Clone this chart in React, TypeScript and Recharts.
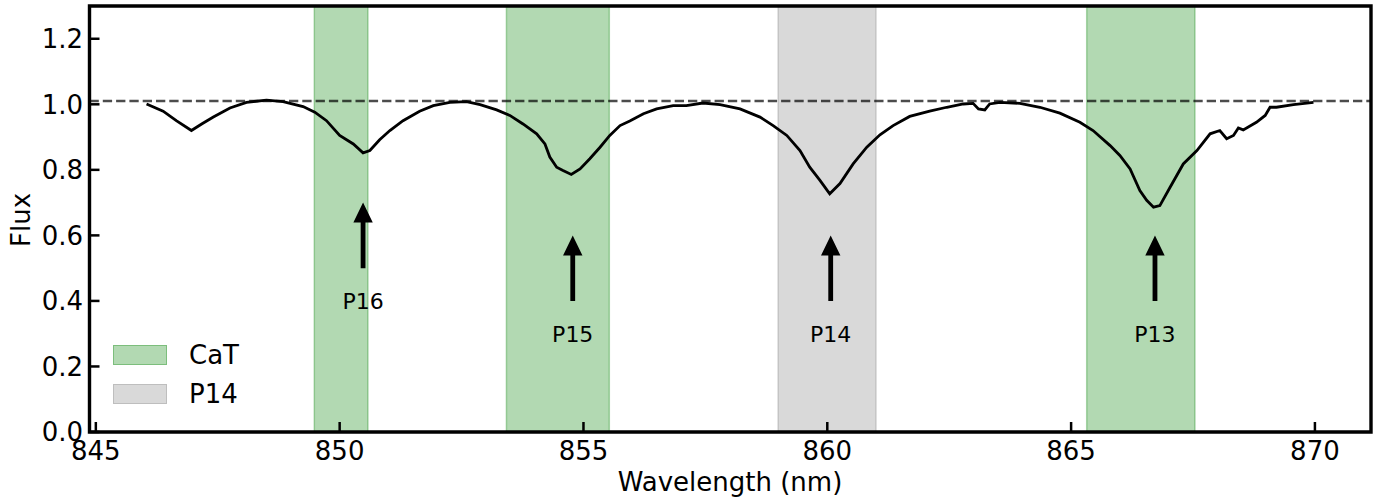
import {
  LineChart,
  Line,
  XAxis,
  YAxis,
  ReferenceArea,
  ReferenceLine,
  ReferenceDot,
  Legend,
} from "recharts";

const FONT = "DejaVu Sans";

// spectrum
const wavelength = [
  846.04, 846.38, 846.65, 846.96, 847.17, 847.41, 847.75, 848.09, 848.5, 848.84,
  849.25, 849.49, 849.73, 850.0, 850.28, 850.48, 850.62, 850.82, 851.03, 851.3,
  851.64, 851.92, 852.26, 852.6, 852.88, 853.22, 853.49, 853.76, 854.04, 854.21,
  854.31, 854.45, 854.58, 854.75, 854.93, 855.13, 855.34, 855.54, 855.75, 855.95,
  856.23, 856.5, 856.84, 857.11, 857.45, 857.8, 858.21, 858.62, 858.89, 859.17,
  859.44, 859.64, 859.85, 860.05, 860.26, 860.53, 860.81, 861.08, 861.35, 861.69,
  862.1, 862.45, 862.79, 862.99, 863.1, 863.23, 863.33, 863.54, 863.95, 864.36,
  864.77, 865.18, 865.45, 865.8, 866.0, 866.21, 866.41, 866.55, 866.69, 866.82,
  867.03, 867.3, 867.58, 867.85, 868.05, 868.19, 868.33, 868.43, 868.53, 868.8,
  868.98, 869.08, 869.21, 869.56, 869.97,
];
const flux = [
  1.001, 0.979, 0.95, 0.92, 0.94, 0.961, 0.989, 1.006, 1.013, 1.008,
  0.993, 0.976, 0.95, 0.905, 0.879, 0.852, 0.859, 0.892, 0.92, 0.95,
  0.979, 0.996, 1.006, 1.008, 0.999, 0.983, 0.966, 0.94, 0.91, 0.879,
  0.839, 0.808, 0.798, 0.786, 0.803, 0.834, 0.869, 0.905, 0.935, 0.949,
  0.971, 0.986, 0.996, 0.996, 1.004, 0.999, 0.986, 0.961, 0.935, 0.905,
  0.859, 0.808, 0.768, 0.727, 0.758, 0.818, 0.869, 0.907, 0.935, 0.963,
  0.979, 0.991, 1.001, 1.003, 0.986, 0.983, 1.001, 1.006, 1.003, 0.991,
  0.973, 0.945, 0.92, 0.874, 0.844, 0.803, 0.737, 0.707, 0.686, 0.691,
  0.747, 0.818, 0.859, 0.91, 0.92, 0.895, 0.905, 0.928, 0.922, 0.945,
  0.966, 0.991, 0.991, 0.999, 1.006,
];

const continuum = 1.01;

const catBands = [
  [849.48, 850.58],
  [853.42, 855.53],
  [865.32, 867.54],
];
const p14Band = [858.99, 861.0];

const lineNames = ["P16", "P15", "P14", "P13"];
const lineCenters = [850.48, 854.78, 860.07, 866.72];
const arrowTail = [0.5, 0.4, 0.4, 0.4];
const arrowTip = [0.7, 0.6, 0.6, 0.6];
const labelY = [0.4, 0.3, 0.3, 0.3];

const xTicks = [845, 850, 855, 860, 865, 870];
const yTicks = [0, 0.2, 0.4, 0.6, 0.8, 1.0, 1.2];
const xDomain = [844.87, 871.15];
const yDomain = [0, 1.3];

const legendItems = [
  { label: "CaT", color: "#008000" },
  { label: "P14", color: "#808080" },
];

const data = wavelength.map((w, i) => ({ wl: w, flux: flux[i] }));

const AXIS_Y = 432;
const AXIS_X = 89.5;

const XTick = (p: any) => (
  <g>
    <line x1={p.x} x2={p.x} y1={AXIS_Y} y2={AXIS_Y - 10} stroke="#000" strokeWidth={2.5} />
    <text x={p.x} y={460} textAnchor="middle" fontSize={26} fontFamily={FONT} fill="#000">
      {p.payload.value}
    </text>
  </g>
);

const YTick = (p: any) => (
  <g>
    <line x1={AXIS_X} x2={AXIS_X + 10} y1={p.y} y2={p.y} stroke="#000" strokeWidth={2.5} />
    <text
      x={83}
      y={p.y}
      dy="0.36em"
      textAnchor="end"
      fontSize={26}
      fontFamily={FONT}
      fill="#000"
    >
      {Number(p.payload.value).toFixed(1)}
    </text>
  </g>
);

const Arrow = (p: any) => {
  const x = p.x1;
  const tail = Math.max(p.y1, p.y2);
  const tip = Math.min(p.y1, p.y2);
  const base = tip + 20;
  const hw = 9.7;
  const sw = 2.4;
  const pts = [
    [x - sw, tail],
    [x - sw, base],
    [x - hw, base],
    [x, tip],
    [x + hw, base],
    [x + sw, base],
    [x + sw, tail],
  ]
    .map((q) => q.join(","))
    .join(" ");
  return <polygon points={pts} fill="#000" />;
};

const renderLegend = () => (
  <div style={{ position: "relative", width: 200, height: 60 }}>
    {legendItems.map((it, i) => (
      <div
        key={it.label}
        style={{
          position: "absolute",
          left: 0,
          top: i * 38.5,
          height: 20,
          display: "flex",
          alignItems: "center",
        }}
      >
        <div style={{ width: 54, height: 20, position: "relative" }}>
          <div
            style={{
              position: "absolute",
              inset: 0,
              background: it.color,
              opacity: 0.3,
            }}
          />
          <div
            style={{
              position: "absolute",
              inset: 0,
              border: `1.5px solid ${it.color}`,
              opacity: 0.3,
            }}
          />
        </div>
        <span
          style={{
            marginLeft: 22,
            fontSize: 26,
            fontFamily: FONT,
            lineHeight: "20px",
            color: "#000",
          }}
        >
          {it.label}
        </span>
      </div>
    ))}
  </div>
);

export default function App() {
  return (
    <div style={{ position: "absolute", left: 0, top: 0, background: "#fff" }}>
      <LineChart
        width={1386}
        height={502}
        data={data}
        margin={{ top: 6, right: 15, bottom: 0, left: 0 }}
      >
        {catBands.map((b, i) => (
          <ReferenceArea
            key={"cat" + i}
            x1={b[0]}
            x2={b[1]}
            y1={0}
            y2={1.3}
            fill="#008000"
            fillOpacity={0.3}
            stroke="#008000"
            strokeOpacity={0.3}
            strokeWidth={1.5}
          />
        ))}
        <ReferenceArea
          x1={p14Band[0]}
          x2={p14Band[1]}
          y1={0}
          y2={1.3}
          fill="#808080"
          fillOpacity={0.3}
          stroke="#808080"
          strokeOpacity={0.3}
          strokeWidth={1.5}
        />
        <XAxis
          dataKey="wl"
          type="number"
          domain={xDomain}
          ticks={xTicks}
          allowDataOverflow
          height={70}
          tickSize={0}
          tickMargin={10}
          axisLine={false}
          tickLine={false}
          tick={XTick}
          label={{
            content: () => (
              <text
                x={730}
                y={491}
                textAnchor="middle"
                fontSize={26}
                fontFamily={FONT}
                fill="#000"
              >
                Wavelength (nm)
              </text>
            ),
          }}
        />
        <YAxis
          type="number"
          domain={yDomain}
          ticks={yTicks}
          allowDataOverflow
          width={AXIS_X}
          tickSize={0}
          tickMargin={6}
          axisLine={false}
          tickLine={false}
          tick={YTick}
          label={{
            content: () => (
              <text
                x={21}
                y={220}
                transform="rotate(-90 21 220)"
                textAnchor="middle"
                dominantBaseline="central"
                fontSize={26}
                fontFamily={FONT}
                fill="#000"
              >
                Flux
              </text>
            ),
          }}
        />
        <ReferenceLine
          y={continuum}
          stroke="#000"
          strokeOpacity={0.7}
          strokeWidth={2.5}
          strokeDasharray="9.3 4"
        />
        <Line
          dataKey="flux"
          type="linear"
          stroke="#000"
          strokeWidth={2.8}
          dot={false}
          isAnimationActive={false}
        />
        {lineNames.map((n, i) => (
          <ReferenceLine
            key={"arrow" + n}
            segment={[
              { x: lineCenters[i], y: arrowTail[i] },
              { x: lineCenters[i], y: arrowTip[i] },
            ]}
            shape={Arrow}
          />
        ))}
        {lineNames.map((n, i) => (
          <ReferenceDot
            key={"lbl" + n}
            x={lineCenters[i]}
            y={labelY[i]}
            r={0}
            fill="none"
            stroke="none"
            label={{
              value: n,
              position: "center",
              fontSize: 22,
              fontFamily: FONT,
              fill: "#000",
            }}
          />
        ))}
        {/* axes frame */}
        <ReferenceArea
          x1={xDomain[0]}
          x2={xDomain[1]}
          y1={yDomain[0]}
          y2={yDomain[1]}
          fill="none"
          stroke="#000"
          strokeWidth={3.4}
          ifOverflow="visible"
        />
        <Legend
          layout="vertical"
          align="center"
          verticalAlign="middle"
          content={renderLegend}
          wrapperStyle={{ left: 113, top: 345, width: 200, height: 60 }}
        />
      </LineChart>
    </div>
  );
}
